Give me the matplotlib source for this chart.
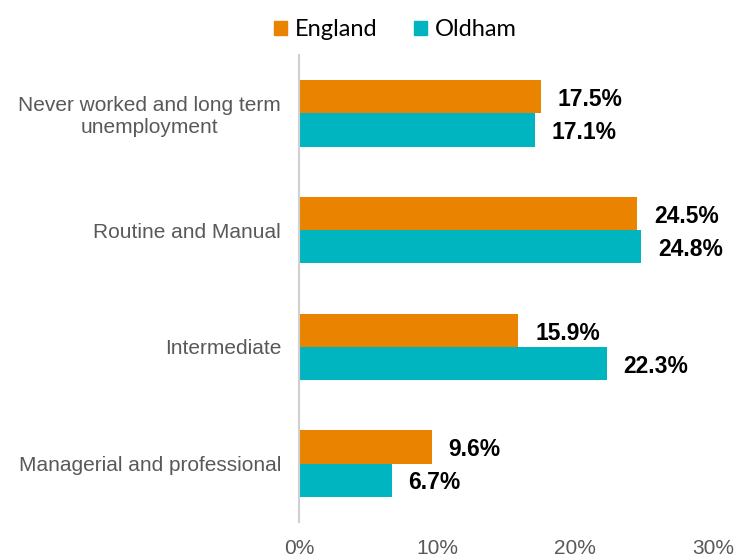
import matplotlib
matplotlib.use("Agg")
import matplotlib.pyplot as plt
from matplotlib.patches import Patch

categories = ["Never worked and long term\nunemployment", "Routine and Manual",
              "Intermediate", "Managerial and professional"]
england = [17.5, 24.5, 15.9, 9.6]
oldham = [17.1, 24.8, 22.3, 6.7]
series_names = ["England", "Oldham"]
xticks = [0, 10, 20, 30]

c_eng = "#E98300"
c_old = "#00B4C0"

fig = plt.figure(figsize=(7.35, 5.57), dpi=100)
ax = fig.add_axes([0.407, 0.063, 0.563, 0.838])

bh = 0.285
ys = list(range(len(categories)))
b1 = ax.barh([y - bh / 2 for y in ys], england, height=bh, color=c_eng)
b2 = ax.barh([y + bh / 2 for y in ys], oldham, height=bh, color=c_old)

for bars, vals in ((b1, england), (b2, oldham)):
    for bar, v in zip(bars, vals):
        ax.annotate(f"{v:.1f}%", (bar.get_width(), bar.get_y() + bar.get_height() / 2),
                    xytext=(12, -2), textcoords="offset points", va="center", ha="left",
                    fontsize=16.5, fontweight="bold", family="Liberation Sans", color="black")

ax.set_ylim(3.5, -0.5)
ax.set_xlim(0, 30)
ax.set_xticks(xticks)
ax.set_xticklabels([f"{t}%" for t in xticks], family="Liberation Sans", fontsize=15, color="#595959")
ax.set_yticks(ys)
ax.set_yticklabels(categories, family="Liberation Sans", fontsize=15, color="#595959",
                   multialignment="center")
ax.tick_params(axis="both", length=0)
ax.tick_params(axis="y", pad=13)
ax.tick_params(axis="x", pad=12)
for s in ("top", "right", "bottom"):
    ax.spines[s].set_visible(False)
ax.spines["left"].set_color("#D0D0D0")
ax.spines["left"].set_linewidth(1.5)

handles = [Patch(color=c_eng), Patch(color=c_old)]
fig.legend(handles, series_names, loc="center", bbox_to_anchor=(0.538, 0.947), ncol=2,
           frameon=False, handlelength=0.55, handleheight=0.55, handletextpad=0.35,
           columnspacing=1.55, prop={"family": "Lato", "size": 17})

fig.savefig("out.png", dpi=100)
